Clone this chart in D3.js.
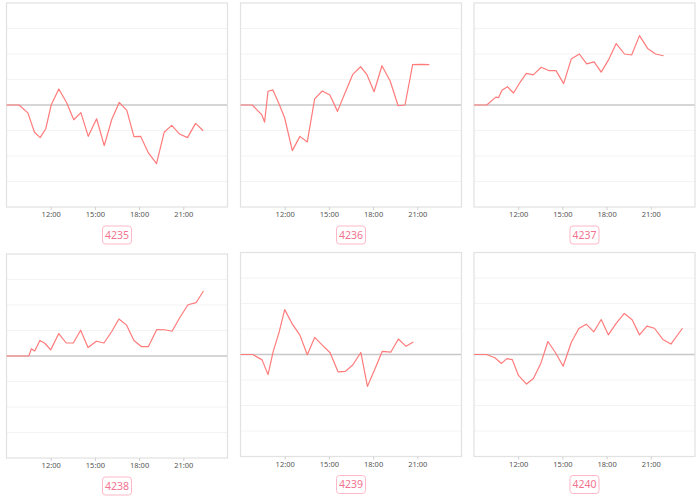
<!DOCTYPE html>
<html><head><meta charset="utf-8">
<script src="https://cdn.jsdelivr.net/npm/d3@7"></script>
<style>
html,body{margin:0;padding:0;background:#fff;}
svg{display:block;font-family:"Noto Sans","DejaVu Sans",sans-serif;}
</style></head>
<body><svg id="c" width="700" height="500"></svg>
<script>
const codes = ["4235","4236","4237","4238","4239","4240"];
const tickHours = [12, 15, 18, 21];
const tickLabels = ["12:00","15:00","18:00","21:00"];
const yGrid = [-3,-2,-1,1,2,3];

const times4235 = ["9:00","9:51","10:27","10:54","11:17","11:40","12:02","12:33","13:05","13:34","14:03","14:33","15:07","15:38","16:09","16:39","17:10","17:39","18:06","18:38","19:11","19:42","20:13","20:45","21:17","21:50","22:21"];
const values4235 = [0,0,-0.31,-1.07,-1.28,-0.93,0,0.63,0.09,-0.58,-0.30,-1.23,-0.54,-1.59,-0.56,0.10,-0.21,-1.24,-1.23,-1.88,-2.30,-1.07,-0.80,-1.14,-1.28,-0.72,-1.01];

const times4236 = ["9:00","9:48","10:27","10:38","10:52","11:12","11:38","12:00","12:31","13:02","13:32","14:02","14:33","15:04","15:35","16:06","16:37","17:09","17:35","18:04","18:36","19:09","19:42","20:10","20:41","21:15","21:49"];
const values4236 = [0,0,-0.39,-0.67,0.54,0.59,0.02,-0.51,-1.79,-1.23,-1.45,0.24,0.55,0.39,-0.25,0.48,1.20,1.50,1.19,0.52,1.54,0.95,-0.03,0,1.58,1.59,1.58];

const times4237 = ["9:00","9:52","10:29","10:40","10:54","11:16","11:41","12:07","12:33","13:01","13:34","14:04","14:34","15:05","15:36","16:09","16:39","17:09","17:38","18:09","18:39","19:13","19:42","20:14","20:47","21:19","21:52"];
const values4237 = [0,0,0.31,0.29,0.58,0.72,0.47,0.88,1.24,1.18,1.48,1.35,1.35,0.84,1.80,2.00,1.61,1.69,1.29,1.79,2.41,2.00,1.96,2.72,2.22,2.00,1.93];

const times4238 = ["9:00","10:31","10:41","10:55","11:16","11:36","12:00","12:33","13:03","13:32","14:02","14:32","15:06","15:37","16:08","16:38","17:09","17:39","18:09","18:38","19:12","19:44","20:14","20:46","21:19","21:52","22:22"];
const values4238 = [0,0,0.28,0.20,0.61,0.50,0.24,0.88,0.51,0.51,1.01,0.33,0.58,0.51,0.95,1.45,1.21,0.61,0.37,0.37,1.04,1.03,0.97,1.51,2.01,2.09,2.55];

const times4239 = ["9:00","9:50","10:28","10:52","11:13","11:37","12:00","12:32","13:02","13:32","14:02","14:33","15:05","15:37","16:07","16:37","17:10","17:37","18:07","18:37","19:12","19:43","20:14","20:44"];
const values4239 = [0,0,-0.21,-0.79,0.11,0.87,1.76,1.18,0.76,-0.01,0.67,0.37,0.07,-0.68,-0.66,-0.41,0.08,-1.25,-0.58,0.12,0.09,0.61,0.32,0.49];

const times4240 = ["9:00","9:51","10:25","10:52","11:14","11:36","12:01","12:34","13:02","13:32","14:01","14:32","15:03","15:36","16:07","16:37","17:08","17:38","18:07","18:39","19:12","19:44","20:14","20:44","21:15","21:49","22:22","23:09"];
const values4240 = [0,0,-0.13,-0.35,-0.16,-0.20,-0.82,-1.16,-0.94,-0.35,0.51,0.07,-0.46,0.47,1.02,1.19,0.89,1.37,0.77,1.22,1.61,1.36,0.77,1.11,1.03,0.59,0.41,1.03];

const seriesTimes = [times4235,times4236,times4237,times4238,times4239,times4240];
const seriesValues = [values4235,values4236,values4237,values4238,values4239,values4240];

const toHours = s => { const [h,m] = s.split(":").map(Number); return h + m/60; };

const svg = d3.select("#c");
const colX = [6.5, 240.5, 474];
const rowY = [3, 252.5];
const extraY = [0,0,0,1.5,0,0];
const W = 221, H = 204;
const lineColor = "#ff7b7b";

codes.forEach((code, i) => {
  const cx = colX[i % 3], cy = rowY[Math.floor(i / 3)] + extraY[i];
  const g = svg.append("g").attr("transform", `translate(${cx},${cy})`);
  const x = d3.scaleLinear().domain([9, 24]).range([0, W]);
  const y = d3.scaleLinear().domain([-4, 4]).range([H, 0]);

  // faint grid
  g.selectAll("line.grid").data(yGrid).enter().append("line")
    .attr("x1", 0).attr("x2", W)
    .attr("y1", d => y(d)).attr("y2", d => y(d))
    .attr("stroke", "#f3f3f3").attr("stroke-width", 1);

  // zero line
  g.append("line").attr("x1", 0).attr("x2", W)
    .attr("y1", y(0)).attr("y2", y(0))
    .attr("stroke", "#c8c8c8").attr("stroke-width", 1.3);

  // frame
  g.append("rect").attr("x", 0).attr("y", 0).attr("width", W).attr("height", H)
    .attr("fill", "none").attr("stroke", "#e2e2e2").attr("stroke-width", 1.2);

  // x axis
  const ax = g.append("g").attr("transform", `translate(0,${H})`)
    .call(d3.axisBottom(x).tickValues(tickHours).tickFormat((d, k) => tickLabels[k]).tickSize(3).tickPadding(2));
  ax.select(".domain").remove();
  ax.selectAll(".tick line").attr("stroke", "#d0d0d0");
  ax.selectAll(".tick text").attr("fill", "#555").attr("font-size", 7.5).attr("font-family", '"Noto Sans","DejaVu Sans",sans-serif');

  // series line
  const pts = seriesTimes[i].map((t, k) => [toHours(t), seriesValues[i][k]]);
  g.append("path").datum(pts)
    .attr("fill", "none").attr("stroke", lineColor).attr("stroke-width", 1.2)
    .attr("stroke-linejoin", "round")
    .attr("d", d3.line().x(d => x(d[0])).y(d => y(d[1])));

  // label box
  const bw = 29, bh = 18;
  const lb = g.append("g").attr("transform", `translate(${W/2},${H + 28})`);
  lb.append("rect").attr("x", -bw/2).attr("y", -bh/2).attr("width", bw).attr("height", bh)
    .attr("rx", 3).attr("fill", "#fff").attr("stroke", "#ffb8c8").attr("stroke-width", 1);
  lb.append("text").attr("text-anchor", "middle").attr("dy", "0.35em")
    .attr("font-size", 10.5).attr("fill", "#f2738f").text(code);
});
</script></body></html>
